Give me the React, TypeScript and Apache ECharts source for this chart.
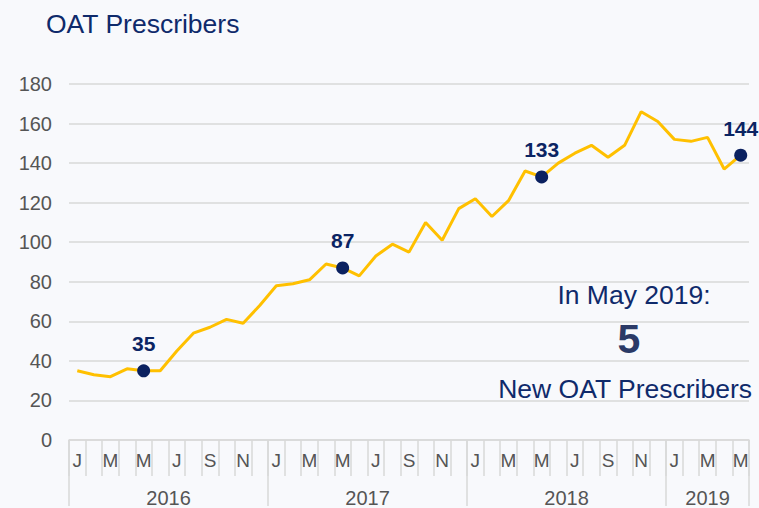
import React, { useEffect, useRef } from "react";
import * as echarts from "echarts";

const months = [
  "J","F","M","A","M","J","J","A","S","O","N","D",
  "J","F","M","A","M","J","J","A","S","O","N","D",
  "J","F","M","A","M","J","J","A","S","O","N","D",
  "J","F","M","A","M",
];
const prescribers = [
  35, 33, 32, 36, 35, 35, 45, 54, 57, 61, 59, 68,
  78, 79, 81, 89, 87, 83, 93, 99, 95, 110, 101, 117,
  122, 113, 121, 136, 133, 140, 145, 149, 143, 149, 166, 161,
  152, 151, 153, 137, 144,
];
const highlightIdx = [4, 16, 28, 40];
const yearLabels = ["2016", "2017", "2018", "2019"];
const yearBoundaries = [0, 12, 24, 36, 41];
const yearCenters = [6, 18, 30, 38.5];
const yTicks = { min: 0, max: 180, interval: 20 };

const NAVY = "#0f2a6b";
const GRID = "#d9d9d9";
const LABEL = "#555555";
const FONT = "'Liberation Sans', Arial, sans-serif";

export default function App() {
  const ref = useRef<HTMLDivElement>(null);
  useEffect(() => {
    if (!ref.current) return;
    const chart = echarts.init(ref.current, null, { renderer: "svg" });
    chart.setOption({
      animation: false,
      backgroundColor: "#f8f9fc",
      textStyle: { fontFamily: FONT },
      grid: { left: 69, right: 10, top: 84, bottom: 66, containLabel: false },
      xAxis: [
        {
          type: "category",
          data: months,
          boundaryGap: true,
          position: "bottom",
          axisLine: { show: true, lineStyle: { color: GRID, width: 1.5 } },
          axisTick: { show: true, interval: 0, length: 36, lineStyle: { color: GRID, width: 1.5 } },
          axisLabel: { interval: 1, color: LABEL, fontSize: 19, margin: 11, fontFamily: FONT },
          splitLine: { show: false },
        },
        {
          type: "value",
          min: 0,
          max: 41,
          position: "bottom",
          axisLine: { show: false },
          axisTick: {
            show: true,
            customValues: yearBoundaries,
            length: 66,
            lineStyle: { color: GRID, width: 1.5 },
          },
          axisLabel: {
            customValues: yearCenters,
            formatter: (v: number) => yearLabels[yearCenters.indexOf(v)] ?? "",
            color: LABEL,
            fontSize: 20,
            margin: 48,
            fontFamily: FONT,
          },
          splitLine: { show: false },
        },
      ],
      yAxis: {
        type: "value",
        min: yTicks.min,
        max: yTicks.max,
        interval: yTicks.interval,
        axisLine: { show: false },
        axisTick: { show: false },
        axisLabel: { color: LABEL, fontSize: 20, margin: 17, fontFamily: FONT },
        splitLine: { lineStyle: { color: GRID, width: 1.5 } },
      },
      series: [
        {
          type: "line",
          xAxisIndex: 0,
          data: prescribers,
          showSymbol: false,
          symbol: "none",
          lineStyle: { color: "#FFC000", width: 3 },
          z: 2,
        },
        {
          type: "scatter",
          xAxisIndex: 0,
          data: highlightIdx.map((i) => [i, prescribers[i]]),
          symbol: "circle",
          symbolSize: 13,
          itemStyle: { color: "#0b2160", opacity: 1 },
          label: {
            show: true,
            position: "top",
            distance: 10,
            color: "#0b2463",
            fontSize: 21,
            fontWeight: "bold",
            fontFamily: FONT,
            formatter: (p: any) => String(p.value[1]),
          },
          z: 3,
        },
      ],
      graphic: [
        {
          type: "text",
          left: 46,
          top: 10,
          style: { text: "OAT Prescribers", fill: NAVY, fontSize: 26.5, fontFamily: FONT },
        },
        {
          type: "text",
          x: 634,
          y: 295,
          style: {
            text: "In May 2019:",
            fill: NAVY,
            fontSize: 26.5,
            fontFamily: FONT,
            align: "center",
            verticalAlign: "middle",
          },
        },
        {
          type: "text",
          x: 629,
          y: 339,
          style: {
            text: "5",
            fill: "#2b3a67",
            fontSize: 41,
            fontWeight: "bold",
            fontFamily: FONT,
            align: "center",
            verticalAlign: "middle",
          },
        },
        {
          type: "text",
          x: 752,
          y: 389,
          style: {
            text: "New OAT Prescribers",
            fill: NAVY,
            fontSize: 26.5,
            fontFamily: FONT,
            align: "right",
            verticalAlign: "middle",
          },
        },
      ],
    });
    return () => chart.dispose();
  }, []);
  return (
    <div
      ref={ref}
      style={{ position: "fixed", left: 0, top: 0, width: 759, height: 508 }}
    />
  );
}
